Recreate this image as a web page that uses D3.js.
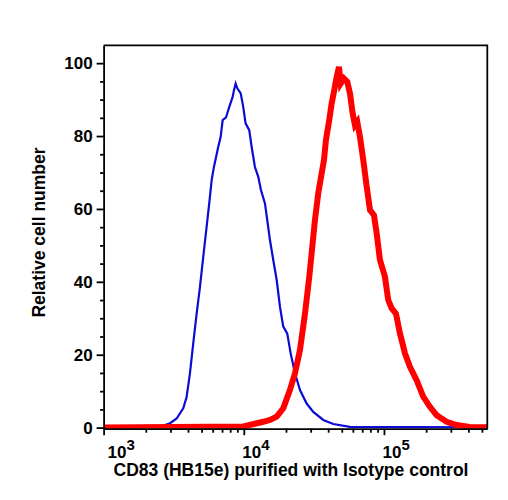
<!DOCTYPE html>
<html>
<head>
<meta charset="utf-8">
<script src="https://cdn.jsdelivr.net/npm/d3@7"></script>
<style>
  body { margin: 0; background: #fff; }
  .axis path, .axis line { stroke: #000; stroke-width: 1.8; }
  .lbl { font-family: "Liberation Sans Narrow", "Arial Narrow", "Liberation Sans", Arial, sans-serif; font-weight: bold; font-size: 17px; fill: #000; }
  .title { font-family: "Liberation Sans", Arial, Helvetica, sans-serif; font-weight: bold; font-size: 17.5px; fill: #000; }
</style>
</head>
<body>
<svg class="svg_hist" width="508" height="500"></svg>
<script>
// isotype control (blue) - fluorescence intensity / relative cell number
var isoX = [1000, 2140, 2520, 2980, 3320, 3700, 3910, 4130, 4360, 4610, 4870, 5140, 5430, 5670, 5900, 6130,
            6570, 6840, 7070, 7470, 7880, 8340, 8510, 8750, 8990, 9510, 9910, 10300, 10940, 11380, 12010,
            12690, 13260, 14160, 14710, 15380, 16230, 17170, 18130, 19130, 20430, 21610, 23190, 25170,
            28090, 31330, 36900, 43500, 57100, 546000];
var isoY = [0, 0.2, 0.2, 1.2, 2.5, 5.3, 8.4, 14.9, 23.1, 31.3, 38.6, 46.9, 55.1, 61.5, 67.9, 71.6,
            77.0, 79.8, 84.4, 85.1, 88.0, 90.8, 92.6, 94.4, 93.1, 91.7, 88.0, 83.5, 81.6, 77.0, 71.5,
            68.8, 65.2, 61.5, 56.9, 51.4, 46.0, 40.5, 33.1, 27.7, 25.8, 20.3, 14.9, 10.3,
            6.6, 4.3, 2.1, 1.0, 0.2, 0.1];

// CD83 (HB15e) stained (red)
var cd83X = [1000, 9910, 13770, 15380, 17170, 19130, 21330, 23190, 25170, 27330, 29330, 30980, 32180,
             33980, 35930, 37330, 38560, 40710, 42340, 44210, 45970, 47780, 49120, 51840, 54740, 57200,
             59800, 62100, 64500, 67400, 71200, 75300, 79500, 84900, 88700, 93600, 101600, 107300,
             113500, 121800, 130100, 141200, 153200, 171000, 190600, 212800, 237600, 280000, 330000,
             410000, 546000];
var cd83Y = [0, 0.3, 1.6, 2.1, 3.0, 5.3, 10.3, 14.9, 21.3, 31.3, 41.4, 50.5, 56.9,
             64.3, 69.7, 73.4, 78.9, 84.4, 88.9, 92.6, 96.2, 99.0, 94.4, 95.8, 94.9, 91.7,
             86.2, 83.0, 83.9, 79.8, 73.4, 66.1, 59.7, 58.3, 53.3, 46.0, 41.4, 35.0,
             32.7, 31.3, 25.8, 20.4, 16.7, 13.0, 8.5, 5.7, 3.4, 1.6, 0.7,
             0.2, 0.1];

var yMajor = [0, 20, 40, 60, 80, 100];
var xMajor = [1e3, 1e4, 1e5];
var xLabels = ["3", "4", "5"];

var svg = d3.select(".svg_hist"),
    margin = {top: 45.3, left: 103.6, right: 20.7, bottom: 71.3},
    width = +svg.attr("width") - margin.left - margin.right,
    height = +svg.attr("height") - margin.top - margin.bottom,
    g = svg.append("g").attr("transform", "translate(" + margin.left + "," + margin.top + ")");

var x = d3.scaleLog().domain([1000, 546000]).range([0, width]);
var y = d3.scaleLinear().domain([-0.3, 104.9]).range([height, 0]);

// minor ticks every 5, and 2..9 per decade
var yMinor = d3.range(0, 105, 5).filter(function(v) { return v % 20 != 0; });
var xMinor = [];
[1e3, 1e4, 1e5].forEach(function(d) {
  for (var k = 2; k <= 9; k++) if (d * k <= 546000) xMinor.push(d * k);
});

g.append("clipPath").attr("id", "clip")
  .append("rect").attr("width", width).attr("height", height);

var line = function(xs, ys) {
  return d3.line()
    .x(function(d, i) { return x(xs[i]); })
    .y(function(d, i) { return y(ys[i]); })(ys);
};

g.append("path")
    .attr("clip-path", "url(#clip)")
    .attr("d", line(isoX, isoY))
    .attr("fill", "none")
    .attr("stroke", "#0b0bd6")
    .attr("stroke-width", 2.2);

g.append("path")
    .attr("clip-path", "url(#clip)")
    .attr("d", line(cd83X, cd83Y))
    .attr("fill", "none")
    .attr("stroke", "#ff0000")
    .attr("stroke-width", 6);

// frame top / right
g.append("path")
    .attr("d", "M0,0H" + width + "V" + height)
    .attr("fill", "none")
    .attr("stroke", "#000")
    .attr("stroke-width", 1.8);

// y axis
g.append("g").attr("class", "axis")
    .call(d3.axisLeft(y).tickValues(yMinor).tickSize(3.5).tickFormat(""))
    .select(".domain").remove();
var ya = g.append("g").attr("class", "axis")
    .call(d3.axisLeft(y).tickValues(yMajor).tickSize(7).tickSizeOuter(0).tickPadding(4));
ya.selectAll("text").attr("class", "lbl").attr("font-size", null).attr("font-family", null);

// x axis
g.append("g").attr("class", "axis")
    .attr("transform", "translate(0," + height + ")")
    .call(d3.axisBottom(x).tickValues(xMinor).tickSize(4).tickFormat(""))
    .select(".domain").remove();
g.append("g").attr("class", "axis")
    .attr("transform", "translate(0," + height + ")")
    .call(d3.axisBottom(x).tickValues(xMajor).tickSize(6.5).tickSizeOuter(0).tickFormat(""));

var xl = g.selectAll(".xlab").data(xMajor).enter().append("text")
    .attr("class", "lbl")
    .attr("x", function(d) { return Math.max(x(d) - 1.5, 4); })
    .attr("y", height + 29);
xl.append("tspan").text("10");
xl.append("tspan").attr("dy", -8).attr("font-size", "15px")
    .text(function(d, i) { return xLabels[i]; });

// axis titles
svg.append("text").attr("class", "title")
    .attr("x", 291).attr("y", 476)
    .attr("text-anchor", "middle")
    .text("CD83 (HB15e) purified with Isotype control");

svg.append("text").attr("class", "title")
    .attr("transform", "translate(45,232.5) rotate(-90)")
    .attr("text-anchor", "middle")
    .text("Relative cell number");
</script>
</body>
</html>
